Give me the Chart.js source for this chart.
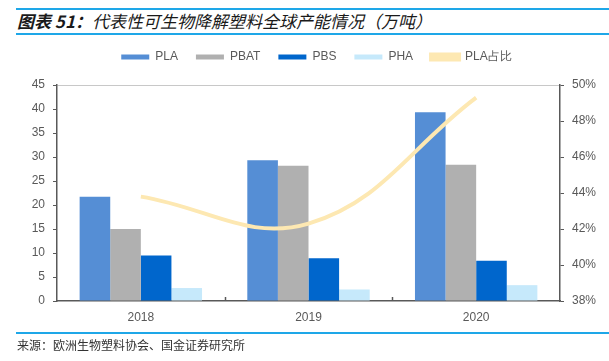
<!DOCTYPE html>
<html>
<head>
<meta charset="utf-8">
<script src="https://cdn.jsdelivr.net/npm/chart.js@4.4.1/dist/chart.umd.min.js"></script>
<style>
    html, body { margin: 0; padding: 0; background: #fff; }
    body { width: 609px; height: 361px; position: relative; overflow: hidden; font-family: "Liberation Sans", Arial, sans-serif; }
    .rule { position: absolute; left: 16px; right: 0; height: 2px; background: #1ea7e8; }
    .title { position: absolute; left: 17px; top: 10px; font-family: "Noto Sans CJK SC", sans-serif; font-size: 17px; font-style: italic; color: #1a1a1a; line-height: 22px; white-space: nowrap; }
    .title b { font-weight: bold; }
    .source { position: absolute; left: 17px; top: 337px; font-family: "Noto Sans CJK SC", sans-serif; font-size: 12px; color: #333; line-height: 16px; white-space: nowrap; }
    #wrap { position: absolute; left: 0; top: 0; width: 609px; height: 361px; }
</style>
</head>
<body>
<div class="rule" style="top:8px"></div>
<div class="title"><b>图表 51：</b>代表性可生物降解塑料全球产能情况（万吨）</div>
<div class="rule" style="top:33px"></div>
<div id="wrap"><canvas id="chart" width="609" height="361"></canvas></div>
<div class="rule" style="top:332px"></div>
<div class="source">来源：欧洲生物塑料协会、国金证券研究所</div>

<script>
// ==================== DATA ====================
const years = ['2018', '2019', '2020'];
const pla = [21.7, 29.3, 39.3];
const pbat = [15.0, 28.2, 28.4];
const pbs = [9.5, 8.9, 8.4];
const pha = [2.7, 2.4, 3.3];
const plaShare = [43.8, 42.3, 49.3];   // %
const leftTicks = [0, 5, 10, 15, 20, 25, 30, 35, 40, 45];
const rightTicks = [38, 40, 42, 44, 46, 48, 50];

const axisColor = '#595959';
const labelFont = { size: 12, family: '"Liberation Sans", Arial, sans-serif' };

function bar(label, data, color) {
    return {
        type: 'bar',
        label: label,
        data: data,
        backgroundColor: color,
        borderWidth: 0,
        yAxisID: 'y',
        order: 1,
        categoryPercentage: 0.73,
        barPercentage: 1.0
    };
}

// extra room under the legend, and nudge it right a little
const legendTweak = {
    id: 'legendTweak',
    beforeInit(chart) {
        const fit = chart.legend.fit;
        chart.legend.fit = function () {
            fit.bind(this)();
            this.height += 12;
        };
    },
    afterLayout(chart) {
        chart.legend.left += 12;
        chart.legend.right += 12;
    }
};

// short inward ticks on the category axis, between the groups
const innerTicks = {
    id: 'innerTicks',
    afterDatasetsDraw(chart) {
        const x = chart.scales.x;
        const ctx = chart.ctx;
        const bottom = chart.chartArea.bottom;
        ctx.save();
        ctx.strokeStyle = axisColor;
        ctx.lineWidth = 1.5;
        for (let i = 1; i < years.length; i++) {
            const px = Math.round((x.getPixelForValue(i - 1) + x.getPixelForValue(i)) / 2) + 0.5;
            ctx.beginPath();
            ctx.moveTo(px, bottom);
            ctx.lineTo(px, bottom - 4);
            ctx.stroke();
        }
        ctx.restore();
    }
};

new Chart(document.getElementById('chart'), {
    data: {
        labels: years,
        datasets: [
            bar('PLA', pla, '#558ed5'),
            bar('PBAT', pbat, '#b0b0b0'),
            bar('PBS', pbs, '#0066cc'),
            bar('PHA', pha, '#c6e9fb'),
            {
                type: 'line',
                label: 'PLA占比',
                data: plaShare,
                yAxisID: 'y1',
                borderColor: '#fde8b2',
                backgroundColor: '#fde8b2',
                borderWidth: 4,
                pointRadius: 0,
                tension: 0.4,
                order: 0
            }
        ]
    },
    plugins: [legendTweak, innerTicks],
    options: {
        responsive: false,
        animation: false,
        layout: { padding: { top: 33, bottom: 0, left: 0, right: 0 } },
        plugins: {
            tooltip: { enabled: false },
            legend: {
                position: 'top',
                labels: {
                    boxWidth: 28,
                    boxHeight: 5,
                    padding: 18,
                    color: axisColor,
                    font: labelFont,
                    sort: (a, b) => a.datasetIndex - b.datasetIndex
                }
            }
        },
        scales: {
            x: {
                grid: { display: false },
                border: { display: true, color: axisColor, width: 1.5 },
                ticks: { color: axisColor, font: labelFont, padding: 1 },
                afterFit: s => { s.height = 60; }
            },
            y: {
                position: 'left',
                min: 0,
                max: 45,
                afterBuildTicks: s => { s.ticks = leftTicks.map(v => ({ value: v })); },
                grid: {
                    drawOnChartArea: true,
                    color: c => (c.tick && c.tick.value === 45 ? '#c8c8c8' : 'rgba(0,0,0,0)'),
                    tickColor: axisColor,
                    tickLength: 4
                },
                border: { color: axisColor, width: 1.5 },
                ticks: { color: axisColor, font: labelFont, padding: 8 },
                afterFit: s => { s.width = 57; }
            },
            y1: {
                position: 'right',
                min: 38,
                max: 50,
                afterBuildTicks: s => { s.ticks = rightTicks.map(v => ({ value: v })); },
                grid: { drawOnChartArea: false, tickColor: axisColor, tickLength: 4 },
                border: { color: axisColor, width: 1.5 },
                ticks: { color: axisColor, font: labelFont, padding: 8, callback: v => v + '%' },
                afterFit: s => { s.width = 49; }
            }
        }
    }
});
</script>
</body>
</html>
